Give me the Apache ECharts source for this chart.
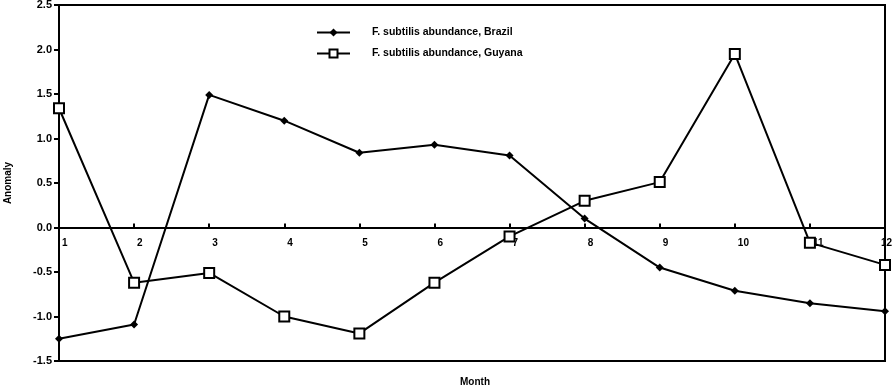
<!DOCTYPE html>
<html>
<head>
<meta charset="utf-8">
<script src="https://cdn.jsdelivr.net/npm/echarts@6/dist/echarts.min.js"></script>
<style>html,body{margin:0;padding:0;background:#fff}#c{width:892px;height:386px}</style>
</head>
<body>
<div id="c"></div>
<script>
var months = ['1','2','3','4','5','6','7','8','9','10','11','12'];
var brazil = [-1.25, -1.09, 1.49, 1.20, 0.84, 0.93, 0.81, 0.10, -0.45, -0.71, -0.85, -0.94];
var guyana = [1.34, -0.62, -0.51, -1.00, -1.19, -0.62, -0.10, 0.30, 0.51, 1.95, -0.17, -0.42];
var yTicks = { min: -1.5, max: 2.5, interval: 0.5 };

var chart = echarts.init(document.getElementById('c'));
var font = 'Liberation Sans, Arial, sans-serif';
chart.setOption({
  animation: false,
  backgroundColor: '#fff',
  title: {
    text: 'Month', left: 455, top: 372,
    textStyle: { fontFamily: font, fontWeight: 'bold', fontSize: 10, color: '#000' }
  },
  grid: { left: 59, right: 7, top: 5, bottom: 25, outerBoundsMode: 'none', containLabel: false,
          show: true, borderColor: '#000', borderWidth: 2, backgroundColor: 'transparent' },
  legend: {
    orient: 'vertical', left: 311, top: 22, itemWidth: 33, itemHeight: 10, itemGap: 10,
    textStyle: { fontFamily: font, fontWeight: 'bold', fontSize: 10.5, color: '#000', padding: [0,0,0,17] },
    data: ['F. subtilis abundance, Brazil', 'F. subtilis abundance, Guyana']
  },
  xAxis: {
    type: 'category', data: months, boundaryGap: false,
    axisLine: { onZero: false, lineStyle: { color: '#000', width: 2 } },
    axisTick: { inside: true, length: 4, alignWithLabel: true, lineStyle: { color: '#000', width: 2 } },
    axisLabel: { fontFamily: font, fontWeight: 'bold', fontSize: 10, color: '#000', margin: 11, align: 'left',
                 alignMaxLabel: 'center', padding: [0,0,0,3], interval: 0 },
    splitLine: { show: false }
  },
  yAxis: {
    type: 'value', min: yTicks.min, max: yTicks.max, interval: yTicks.interval,
    name: 'Anomaly', nameLocation: 'middle', nameGap: 46, nameRotate: 90,
    nameTextStyle: { fontFamily: font, fontWeight: 'bold', fontSize: 10, color: '#000' },
    axisLine: { show: true, onZero: false, lineStyle: { color: '#000', width: 2 } },
    axisTick: { show: true, length: 5, lineStyle: { color: '#000', width: 2 } },
    axisLabel: { fontFamily: font, fontWeight: 'bold', fontSize: 11, color: '#000', margin: 7, formatter: function(v){ return v.toFixed(1); } },
    splitLine: { show: false }
  },
  series: [
    {
      name: 'F. subtilis abundance, Brazil', type: 'line', data: brazil,
      symbol: 'diamond', symbolSize: 8, showAllSymbol: true,
      lineStyle: { color: '#000', width: 2 },
      itemStyle: { color: '#000', borderColor: '#000', borderWidth: 0 },
      z: 3
    },
    {
      name: 'F. subtilis abundance, Guyana', type: 'line', data: guyana,
      symbol: 'rect', symbolSize: 10, showAllSymbol: true,
      lineStyle: { color: '#000', width: 2 },
      itemStyle: { color: '#fff', borderColor: '#000', borderWidth: 2 },
      z: 4
    }
  ]
});
// move the x axis to the zero line, using the library's own y scale
var zeroY = chart.convertToPixel({ yAxisIndex: 0 }, 0);
var bottomY = chart.convertToPixel({ yAxisIndex: 0 }, yTicks.min);
chart.setOption({ xAxis: { offset: -(bottomY - zeroY) } });
</script>
</body>
</html>
